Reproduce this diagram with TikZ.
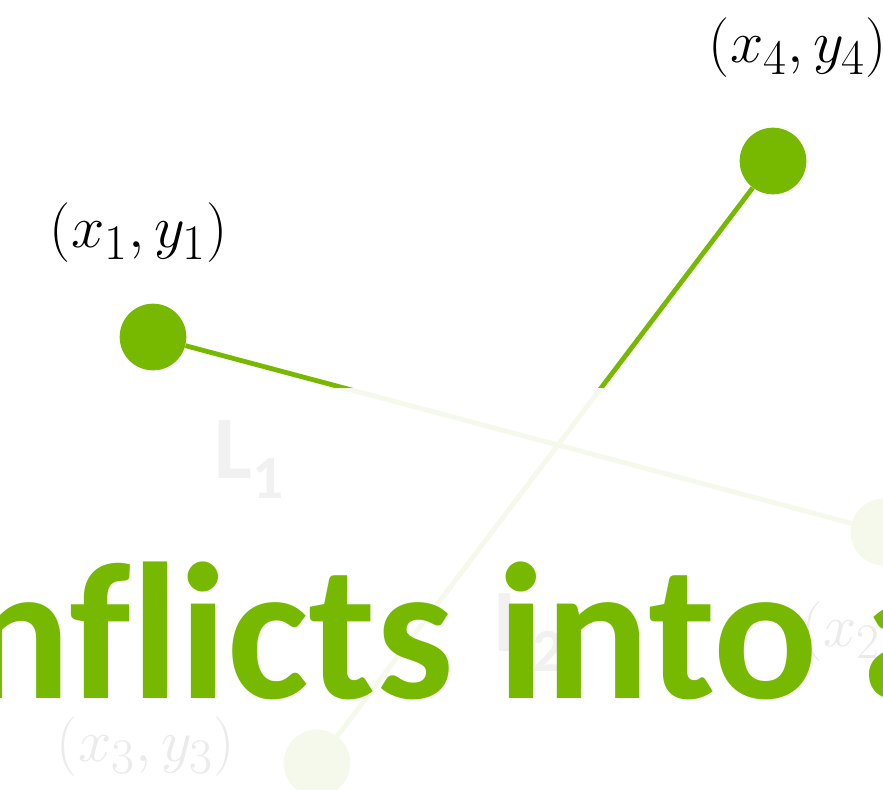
\documentclass[tikz,border=0pt]{standalone}
\usepackage{graphicx}
\usepackage{fontspec}
\setsansfont{Carlito}[Ligatures=CommonOff]
\usepackage{tikz}
\definecolor{primary}{RGB}{118, 185, 0}
\definecolor{secondary}{RGB}{89, 89, 89}
\newcommand{\pointlabel}[1]{\scalebox{1.8}{\Huge$#1$}}

\begin{document}
\begin{tikzpicture}[x=0.75pt, y=-0.75pt]
  \useasboundingbox (0, 0) rectangle (883, 790);
  \tikzset{
    seg/.style={primary, line width=3.6pt},
    dot/.style={circle, fill=primary, inner sep=0pt, minimum size=50pt},
    coord/.style={inner sep=0pt},
    linename/.style={secondary, font=\sffamily\bfseries\fontsize{67}{80}\selectfont}
  }

  % End points of the two segments
  \node[dot] (P1) at (153, 337) {};
  \node[dot] (P2) at (884, 532) {};
  \node[dot] (P3) at (317, 763) {};
  \node[dot] (P4) at (773, 161) {};
  \draw[seg] (P1) -- (P2);
  \draw[seg] (P4) -- (P3);

  % Labels of the points
  \node[coord] (l1) at (139, 233) {\pointlabel{(x_1, y_1)}};
  \node[coord] (l2) at (891, 632) {\pointlabel{(x_2, y_2)}};
  \node[coord] (l3) at (146, 747) {\pointlabel{(x_3, y_3)}};
  \node[coord] (l4) at (798, 48) {\pointlabel{(x_4, y_4)}};

  % Names of the lines
  \node[linename, anchor=base west, inner sep=0pt] (L1) at (214, 478) {L\raisebox{-15pt}{\fontsize{46}{50}\selectfont 1}};
  \node[linename, anchor=base west, inner sep=0pt] (L2) at (494, 651) {L\raisebox{-15pt}{\fontsize{46}{50}\selectfont 2}};

  % Fade over the lower part
  \fill[white, opacity=0.92] (0, 388) rectangle (883, 790);

  % Title text
  \node[primary, anchor=base west, inner sep=0pt, font=\sffamily\bfseries\fontsize{146}{170}\selectfont] (title) at (-34, 698) {nf\kern0ptlicts into a};
\end{tikzpicture}
\end{document}
